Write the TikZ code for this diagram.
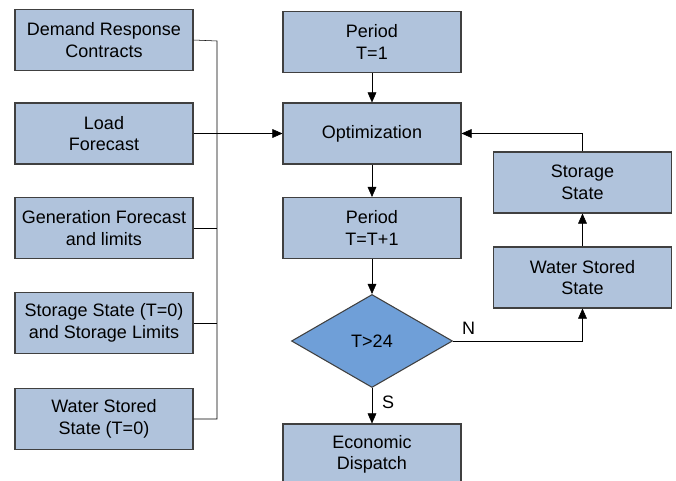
\documentclass[tikz,border=0pt]{standalone}
\usepackage{fontspec}
\setmainfont{Liberation Sans}
\usetikzlibrary{arrows.meta}
\usetikzlibrary{shapes.geometric}

\definecolor{boxfill}{HTML}{B0C3DC}
\definecolor{decfill}{HTML}{6F9FD8}
\definecolor{boxline}{HTML}{404040}

\begin{document}
\begin{tikzpicture}[x=0.75pt, y=-0.75pt]
                \tikzstyle{block} = [draw=boxline, fill=boxfill, thick, minimum width=133.5pt, minimum height=45.75pt, align=center, inner sep=0pt, font=\fontsize{13.5}{16.2}\selectfont]
                \tikzstyle{decision} = [diamond, draw=boxline, fill=decfill, thick, minimum width=120.75pt, minimum height=69.75pt, aspect=1.73, inner sep=0pt, font=\fontsize{13.5}{16.2}\selectfont]
                \tikzstyle{line} = [thin]
                \tikzstyle{flow} = [thin, -{Triangle[length=7.5pt, width=6.5pt]}]
                \useasboundingbox (0, 0) rectangle (676, 481);
                % inputs on the left
                \node[block] (demand) at (104, 40) {Demand Response\\Contracts};
                \node[block] (load) at (104, 133.5) {Load\\Forecast};
                \node[block] (gen) at (104, 228) {Generation Forecast\\and limits};
                \node[block] (stor0) at (104, 323) {Storage State (T=0)\\and Storage Limits};
                \node[block] (water0) at (104, 419) {Water Stored\\State (T=0)};
                % main loop
                \node[block] (per1) at (372, 42) {Period\\T=1};
                \node[block] (opt) at (372, 133.5) {Optimization};
                \node[block] (pernext) at (372, 228) {Period\\T=T+1};
                \node[decision] (test) at (372, 341) {T>24};
                \node[block] (disp) at (372, 454.5) {Economic\\Dispatch};
                \node[block] (water) at (582.5, 277.5) {Water Stored\\State};
                \node[block] (stor) at (582.5, 182.5) {Storage\\State};
                % bus of the inputs
                \coordinate (bustop) at (217, 41);
                \coordinate (busbot) at (217, 419);
                \draw[line] (demand.east) -- (bustop) -- (busbot) -- (water0.east);
                \draw[line] (gen.east) -- (gen.east -| bustop);
                \draw[line] (stor0.east) -- (stor0.east -| bustop);
                \draw[flow] (load.east) -- (opt.west);
                \draw[flow] (per1) -- (opt);
                \draw[flow] (opt) -- (pernext);
                \draw[flow] (pernext) -- (test);
                \draw[flow] (test) -- node[pos=0.4, right=4pt, font=\fontsize{13.5}{16.2}\selectfont] {S} (disp);
                \draw[flow] (test.east) -- node[pos=0.12, above=1pt, font=\fontsize{13.5}{16.2}\selectfont] {N} (test.east -| water.south) -- (water.south);
                \draw[flow] (water) -- (stor);
                \draw[flow] (stor.north) |- (opt.east);
            \end{tikzpicture}
\end{document}
